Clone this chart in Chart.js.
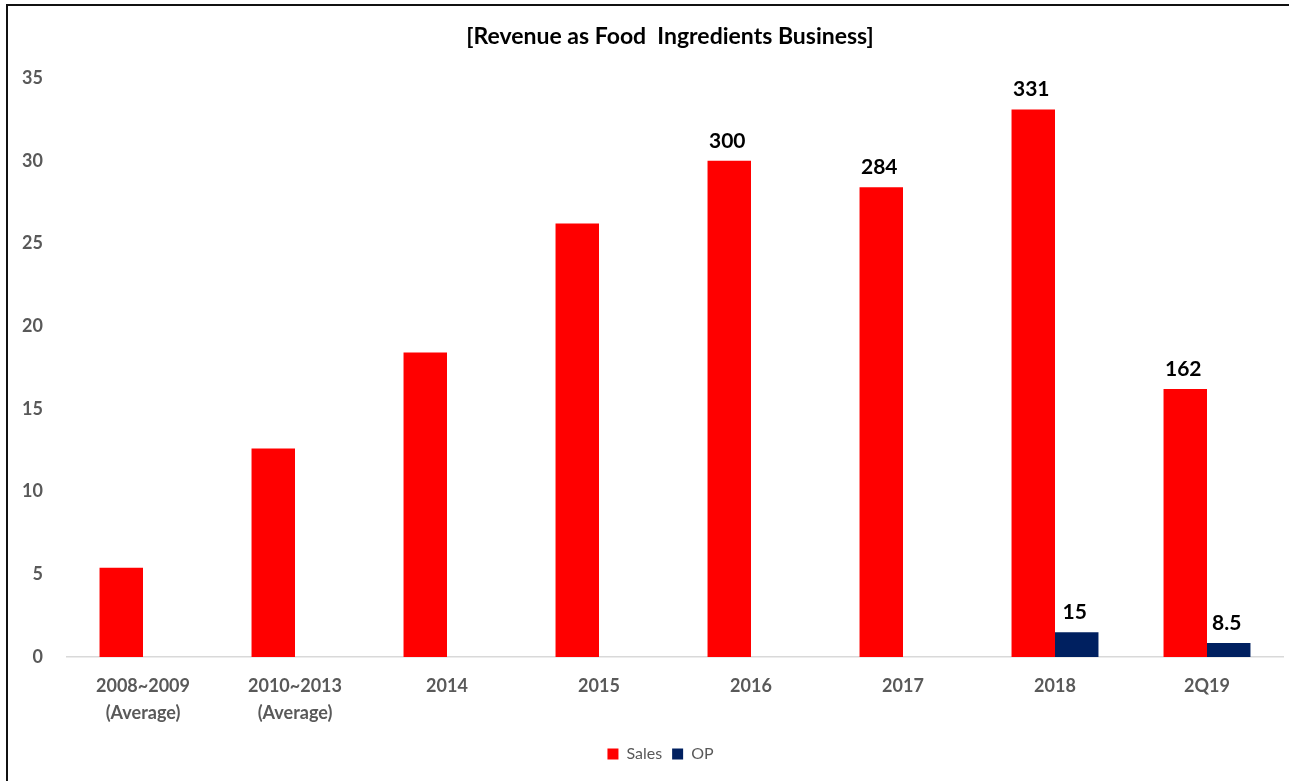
<!DOCTYPE html>
<html>
<head>
<meta charset="utf-8">
<script src="https://cdn.jsdelivr.net/npm/chart.js@4.4.1/dist/chart.umd.min.js"></script>
<style>
    html, body { margin: 0; padding: 0; background: #fff; overflow: hidden; }
    #wrap { position: relative; width: 1289px; height: 781px; }
    #frame {
        position: absolute; left: 6px; top: 4px; width: 1400px; height: 800px;
        border-left: 2px solid #111; border-top: 2px solid #111;
        pointer-events: none;
    }
</style>
</head>
<body>
<div id="wrap">
    <canvas id="revenueChart" width="1289" height="781"></canvas>
    <div id="frame"></div>
</div>
<script>
const categories = [['2008~2009', '(Average)'], ['2010~2013', '(Average)'], '2014', '2015', '2016', '2017', '2018', '2Q19'];
const salesValues = [5.4, 12.6, 18.4, 26.2, 30.0, 28.4, 33.1, 16.2];
const opValues = [null, null, null, null, null, null, 1.5, 0.85];
const yTicks = [0, 5, 10, 15, 20, 25, 30, 35];

// which bars carry a value label (label = value x 10)
const salesLabelled = [4, 5, 6, 7];
const opLabelled = [6, 7];

const colorRed = '#FF0000';
const colorNavy = '#002060';
const colorText = '#595959';
const fontFamily = 'Lato, "Open Sans", sans-serif';

const titleText = '[Revenue as Food  Ingredients Business]';

// bold numbers above selected bars + centred title over the plot
const barLabels = {
    id: 'barLabels',
    afterLayout(chart) {
        // nudge the legend so it sits centred under the plot area
        chart.legend.left += 22;
    },
    afterDatasetsDraw(chart) {
        const ctx = chart.ctx;
        ctx.save();
        ctx.fillStyle = '#000';
        ctx.font = 'bold 21px ' + fontFamily;
        ctx.textAlign = 'center';
        ctx.textBaseline = 'alphabetic';
        [[0, salesLabelled], [1, opLabelled]].forEach(([di, idxs]) => {
            const meta = chart.getDatasetMeta(di);
            const values = chart.data.datasets[di].data;
            idxs.forEach(i => {
                const bar = meta.data[i];
                const txt = String(Math.round(values[i] * 100) / 10);
                ctx.fillText(txt, bar.x - 2, bar.y - 13);
            });
        });

        const area = chart.chartArea;
        ctx.font = 'bold 23px ' + fontFamily;
        ctx.textBaseline = 'middle';
        ctx.fillText(titleText, (area.left + area.right) / 2 - 5, 37);
        ctx.restore();
    }
};

const ctx = document.getElementById('revenueChart').getContext('2d');

new Chart(ctx, {
    type: 'bar',
    data: {
        labels: categories,
        datasets: [
            { label: 'Sales', data: salesValues, backgroundColor: colorRed },
            { label: 'OP', data: opValues, backgroundColor: colorNavy }
        ]
    },
    options: {
        responsive: false,
        animation: false,
        layout: { padding: { top: 78, left: 16, right: 6, bottom: 9 } },
        datasets: {
            bar: { categoryPercentage: 0.572, barPercentage: 1 }
        },
        plugins: {
            title: { display: false },
            tooltip: { enabled: false },
            legend: {
                position: 'bottom',
                labels: {
                    boxWidth: 11,
                    boxHeight: 11,
                    padding: 10,
                    color: colorText,
                    font: { family: fontFamily, size: 16 }
                }
            }
        },
        scales: {
            x: {
                grid: { display: false, drawTicks: false },
                border: { display: true, color: '#D9D9D9', width: 1.5 },
                ticks: {
                    color: colorText,
                    padding: 16,
                    maxRotation: 0,
                    font: { family: fontFamily, size: 18, weight: 'bold', lineHeight: 1.5 }
                },
                afterFit(scale) { scale.height = 79; }
            },
            y: {
                min: 0,
                max: 35,
                grid: { display: false, drawTicks: false },
                border: { display: false },
                afterBuildTicks(scale) { scale.ticks = yTicks.map(v => ({ value: v })); },
                ticks: {
                    color: colorText,
                    padding: 24,
                    font: { family: fontFamily, size: 18, weight: 'bold' }
                },
                afterFit(scale) { scale.width = 51; }
            }
        }
    },
    plugins: [barLabels]
});
</script>
</body>
</html>
